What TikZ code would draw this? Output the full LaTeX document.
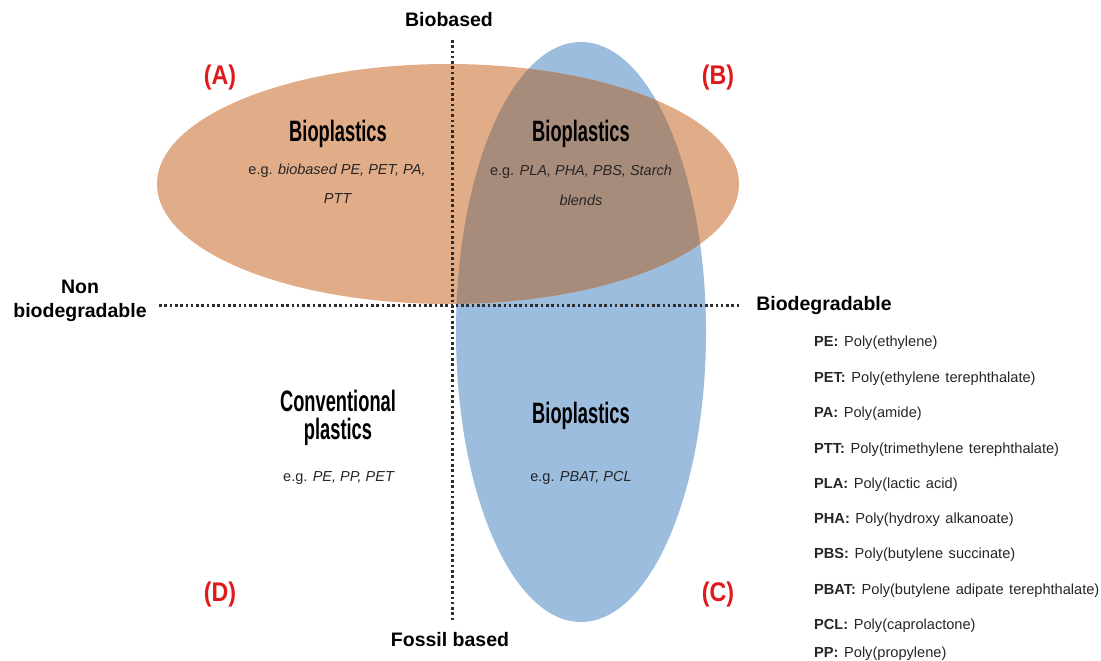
\documentclass[tikz,border=0pt]{standalone}
\usepackage{fontspec}
\setmainfont{Liberation Sans}
\newfontfamily\headfont[FakeStretch=0.62]{Liberation Sans}
\newfontfamily\labfont[FakeStretch=0.86]{Liberation Sans}
\usetikzlibrary{positioning}
\definecolor{orangefill}{HTML}{E1AC88}
\definecolor{bluefill}{HTML}{9CBDDE}
\definecolor{overlapfill}{HTML}{A88C7B}
\definecolor{labred}{HTML}{E0191B}
\definecolor{dotgrey}{HTML}{2E2E2E}
\newcommand{\legendfont}{\fontsize{14.6}{16}\selectfont\spaceskip=5.6pt\relax}
\tikzset{
  axisline/.style={dotgrey, line width=3pt, dash pattern=on 2.6pt off 2.7pt},
  axislabel/.style={font=\fontsize{19.5}{24}\selectfont\bfseries, inner sep=0pt, align=center},
  quadlabel/.style={font=\labfont\fontsize{27}{30}\selectfont\bfseries, text=labred, inner sep=0pt},
  headtext/.style={font=\headfont\fontsize{29.5}{32}\selectfont\bfseries, inner sep=0pt, align=center},
  bodytext/.style={font=\fontsize{14.5}{29}\selectfont, inner sep=0pt, text=black!85, align=center},
  legendtext/.style={font=\legendfont, inner sep=0pt, anchor=west, text=black!85},
}
\begin{document}
\begin{tikzpicture}[x=1pt,y=-1pt]
\useasboundingbox (0,0) rectangle (1101,661);
% ellipses
\fill[bluefill] (581,332) ellipse [x radius=125, y radius=290];
\fill[orangefill] (448,184) ellipse [x radius=291, y radius=120];
\begin{scope}
  \clip (581,332) ellipse [x radius=125, y radius=290];
  \fill[overlapfill] (448,184) ellipse [x radius=291, y radius=120];
\end{scope}
% axes
\coordinate (vtop) at (452,40);
\coordinate (vbot) at (452,622);
\coordinate (hleft) at (159,305);
\coordinate (hright) at (741,305);
\draw[axisline] (vtop) -- (vbot);
\draw[axisline] (hleft) -- (hright);
\node[axislabel] (biobased) at (449,20) {Biobased};
\node[axislabel] (fossil) at (450,640) {Fossil based};
\node[axislabel] (biodeg) at (824,305) {Biodegradable};
\node[axislabel] (non) at (80,287) {Non};
\node[axislabel] (nonbio) at (80,312) {biodegradable};
% quadrant labels
\node[quadlabel] (qa) at (220,78) {(A)};
\node[quadlabel] (qb) at (718,78) {(B)};
\node[quadlabel] (qc) at (718,595) {(C)};
\node[quadlabel] (qd) at (220,595) {(D)};
% texts
\node[headtext] (ha) at (338,134) {Bioplastics};
\node[bodytext] (ba) at (337,171) {e.g. \textit{biobased PE, PET, PA,}};
\node[bodytext] (ba2) at (338,199) {\textit{PTT}};
\node[headtext] (hb) at (581,134) {Bioplastics};
\node[bodytext] (bb) at (581,172) {e.g. \textit{PLA, PHA, PBS, Starch}};
\node[bodytext] (bb2) at (581,200) {\textit{blends}};
\node[headtext] (hd) at (338,401) {Conventional};
\node[headtext] (hd2) at (338,432) {plastics};
\node[bodytext] (bd) at (339,478) {e.g. \textit{PE, PP, PET}};
\node[headtext] (hc) at (581,416) {Bioplastics};
\node[bodytext] (bc) at (581,478) {e.g. \textit{PBAT, PCL}};
% legend
\node[legendtext] (l1) at (814,343) {\textbf{PE:} Poly(ethylene)};
\node[legendtext] (l2) at (814,379) {\textbf{PET:} Poly(ethylene terephthalate)};
\node[legendtext] (l3) at (814,414) {\textbf{PA:} Poly(amide)};
\node[legendtext] (l4) at (814,450) {\textbf{PTT:} Poly(trimethylene terephthalate)};
\node[legendtext] (l5) at (814,485) {\textbf{PLA:} Poly(lactic acid)};
\node[legendtext] (l6) at (814,520) {\textbf{PHA:} Poly(hydroxy alkanoate)};
\node[legendtext] (l7) at (814,555) {\textbf{PBS:} Poly(butylene succinate)};
\node[legendtext] (l8) at (814,591) {\textbf{PBAT:} Poly(butylene adipate terephthalate)};
\node[legendtext] (l9) at (814,626) {\textbf{PCL:} Poly(caprolactone)};
\node[legendtext] (l10) at (814,654) {\textbf{PP:} Poly(propylene)};
\end{tikzpicture}
\end{document}
